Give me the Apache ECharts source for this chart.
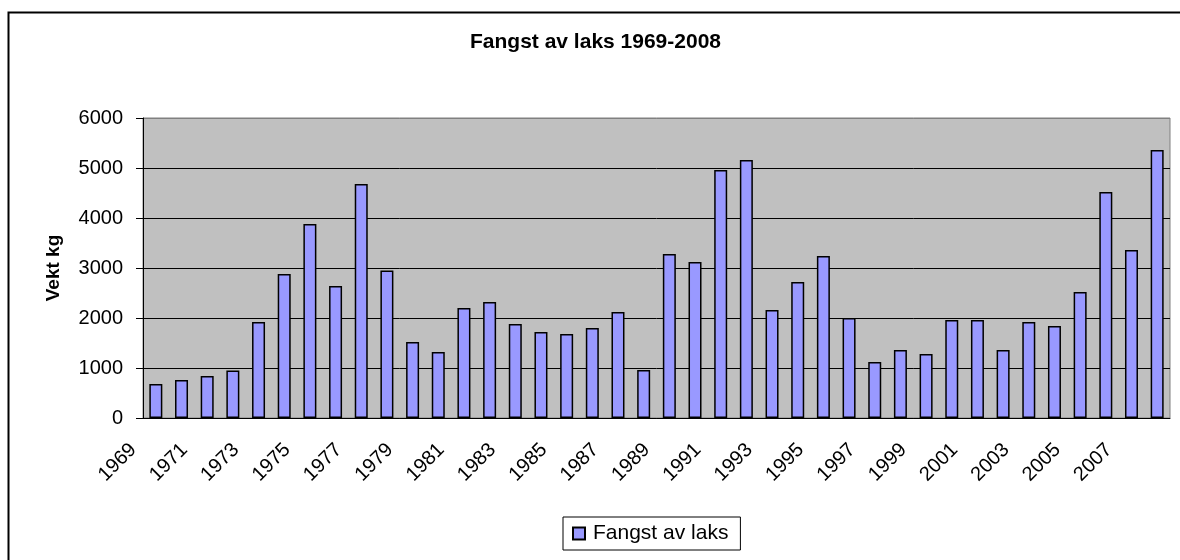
<!DOCTYPE html>
<html>
<head>
<meta charset="utf-8">
<title>Fangst av laks 1969-2008</title>
<script src="https://cdn.jsdelivr.net/npm/echarts@6/dist/echarts.min.js"></script>
<style>
  html, body { margin: 0; padding: 0; background: #fff; }
  #chart { width: 1180px; height: 560px; }
</style>
</head>
<body>
<div id="chart"></div>
<script>
// --------------------------
// Data
// --------------------------
const years = [
  '1969', '1970', '1971', '1972', '1973', '1974', '1975', '1976', '1977', '1978',
  '1979', '1980', '1981', '1982', '1983', '1984', '1985', '1986', '1987', '1988',
  '1989', '1990', '1991', '1992', '1993', '1994', '1995', '1996', '1997', '1998',
  '1999', '2000', '2001', '2002', '2003', '2004', '2005', '2006', '2007', '2008'
]

// Vekt kg per år
const catchKg = [
  680, 760, 840, 950, 1920, 2880, 3880, 2640, 4680, 2950,
  1520, 1320, 2200, 2320, 1880, 1720, 1680, 1800, 2120, 960,
  3280, 3120, 4960, 5160, 2160, 2720, 3240, 2000, 1120, 1360,
  1280, 1960, 1960, 1360, 1920, 1840, 2520, 4520, 3360, 5360
]

const yTicks = [0, 1000, 2000, 3000, 4000, 5000, 6000]

const font = 'Liberation Sans, Arial, sans-serif'

const chart = echarts.init(document.getElementById('chart'))

const option = {
  animation: false,
  backgroundColor: '#fff',
  title: {
    text: 'Fangst av laks 1969-2008',
    left: 470,
    top: 32,
    padding: 0,
    textStyle: { fontFamily: font, fontSize: 21, fontWeight: 'bold', color: '#000' }
  },
  // outer chart frame (right and bottom edges run off the picture)
  graphic: [
    {
      type: 'rect',
      shape: { x: 8.5, y: 12.5, width: 1200, height: 600 },
      style: { fill: 'none', stroke: '#000', lineWidth: 2 },
      silent: true
    }
  ],
  legend: {
    left: 563,
    top: 517,
    padding: [6, 12, 6, 9],
    borderColor: '#000',
    borderWidth: 1,
    itemWidth: 12,
    itemHeight: 12,
    icon: 'rect',
    textStyle: { fontFamily: font, fontSize: 21, color: '#000', padding: [0, 0, 0, 3] },
    data: ['Fangst av laks']
  },
  grid: {
    left: 143,
    right: 10,
    top: 118,
    bottom: 142,
    show: true,
    backgroundColor: '#c0c0c0',
    borderColor: '#808080',
    borderWidth: 1
  },
  xAxis: {
    type: 'category',
    data: years,
    axisLine: { lineStyle: { color: '#000', width: 1 } },
    axisTick: { interval: 0, length: 6, lineStyle: { color: '#000' } },
    axisLabel: {
      interval: 1,
      rotate: 45,
      margin: 6,
      padding: [0, 32, 0, 0],
      fontFamily: font,
      fontSize: 20,
      color: '#000'
    }
  },
  yAxis: {
    type: 'value',
    min: yTicks[0],
    max: yTicks[yTicks.length - 1],
    interval: 1000,
    name: 'Vekt kg',
    nameLocation: 'middle',
    nameGap: 80,
    nameTextStyle: { fontFamily: font, fontSize: 19, fontWeight: 'bold', color: '#000' },
    axisLine: { show: true, lineStyle: { color: '#000', width: 1 } },
    axisTick: { show: true, length: 7, lineStyle: { color: '#000' } },
    axisLabel: {
      margin: 20,
      fontFamily: font,
      fontSize: 20,
      color: '#000',
      formatter: v => String(v)
    },
    splitLine: {
      show: true,
      // top line is the grey plot border, the rest black
      lineStyle: { color: ['#000', '#000', '#000', '#000', '#000', '#000', '#808080'], width: 1 }
    }
  },
  series: [
    {
      name: 'Fangst av laks',
      type: 'bar',
      data: catchKg,
      barWidth: 13,
      itemStyle: { color: '#9999ff', borderColor: '#000', borderWidth: 1.5 }
    }
  ]
}

chart.setOption(option)
</script>
</body>
</html>
